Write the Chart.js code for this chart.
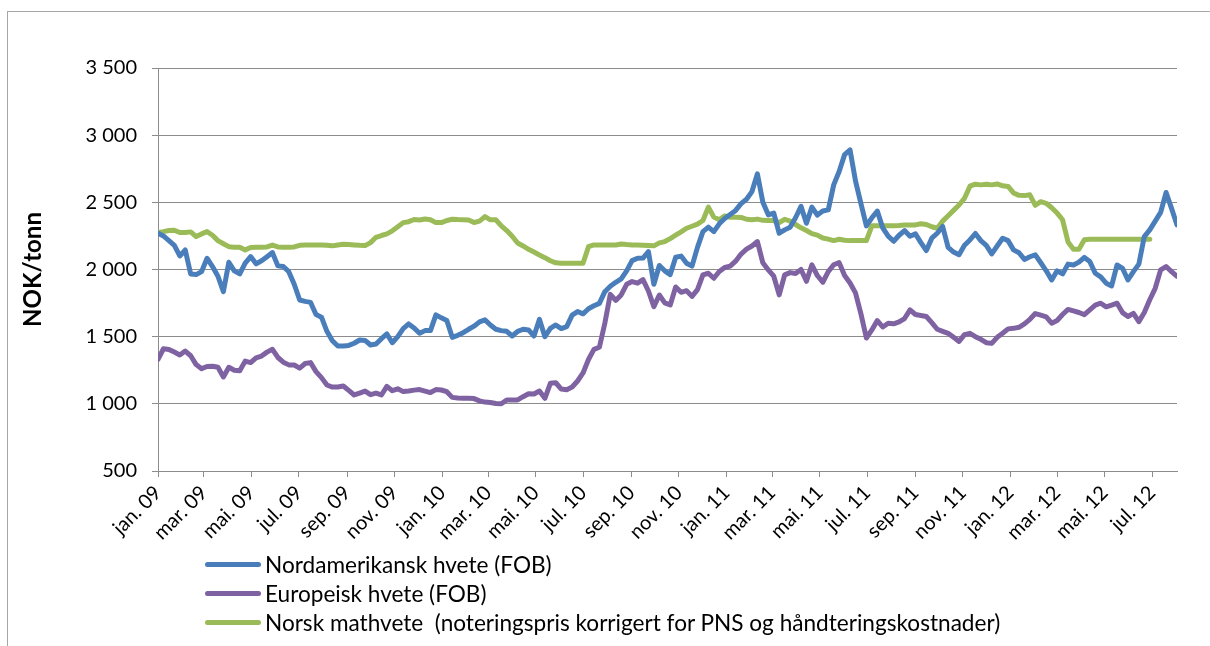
<!DOCTYPE html>
<html lang="no">
<head>
<meta charset="utf-8">
<title>Hvetepriser NOK/tonn</title>
<script src="https://cdn.jsdelivr.net/npm/chart.js@4.4.1/dist/chart.umd.min.js"></script>
<style>
    html, body { margin: 0; padding: 0; background: #fff; }
    #wrap { position: relative; width: 1210px; height: 646px; overflow: hidden; }
    #frame { position: absolute; left: 7px; top: 11px; width: 1300px; height: 700px;
             border-left: 1px solid #a6a6a6; border-top: 1px solid #a6a6a6; }
    #legend { position: absolute; left: 205px; top: 550px; font-family: Lato, sans-serif;
              font-size: 22.6px; color: #000; }
    #legend .row { display: flex; align-items: center; height: 29px; }
    #legend .line { width: 56px; height: 5px; border-radius: 3px; margin-right: 4px; }
</style>
</head>
<body>
<div id="wrap">
    <div id="frame"></div>
    <canvas id="chart" width="1210" height="646"></canvas>
    <div id="legend"></div>
</div>
<script>
// ========================================
// Data: weekly prices, NOK/tonn (week 0 = first week of jan. 2009)
// ========================================

const seriesNames = [
    'Nordamerikansk hvete (FOB)',
    'Europeisk hvete (FOB)',
    'Norsk mathvete  (noteringspris korrigert for PNS og håndteringskostnader)'
];

// x-axis labels, every second month from jan. 09
const tickLabels = [
    'jan. 09', 'mar. 09', 'mai. 09', 'jul. 09', 'sep. 09', 'nov. 09',
    'jan. 10', 'mar. 10', 'mai. 10', 'jul. 10', 'sep. 10', 'nov. 10',
    'jan. 11', 'mar. 11', 'mai. 11', 'jul. 11', 'sep. 11', 'nov. 11',
    'jan. 12', 'mar. 12', 'mai. 12', 'jul. 12'
];

const nordamerikansk = [
    2270, 2250, 2215, 2180, 2101, 2145, 1967, 1962, 1984, 2084,
    2022, 1950, 1835, 2054, 1990, 1967, 2047, 2096, 2042, 2065,
    2095, 2126, 2027, 2022, 1984, 1890, 1773, 1763, 1755, 1665,
    1645, 1540, 1470, 1431, 1431, 1435, 1451,
    1475, 1472, 1438, 1445, 1485, 1520, 1455, 1500, 1560, 1595,
    1565, 1525, 1545, 1545, 1662, 1640, 1620, 1495, 1510, 1530,
    1555, 1578, 1610, 1625, 1587, 1555, 1545, 1540, 1505, 1540,
    1555, 1550, 1505, 1629, 1500, 1562,
    1587, 1560, 1575, 1660, 1687, 1670, 1708, 1730, 1748, 1835,
    1875, 1905, 1930, 1990, 2066, 2084, 2085, 2133, 1890, 2030,
    1990, 1962, 2091, 2100, 2047, 2025, 2165, 2282, 2315, 2282,
    2340, 2380, 2410, 2440, 2490, 2523, 2580,
    2712, 2500, 2407, 2420, 2270, 2295, 2315, 2385, 2470, 2344,
    2465, 2405, 2435, 2444, 2630, 2730, 2855, 2890, 2660, 2490,
    2325, 2385, 2435, 2310, 2248, 2210, 2255, 2290, 2248, 2265,
    2200, 2141, 2233, 2270, 2320, 2165, 2130,
    2110, 2180, 2220, 2268, 2215, 2180, 2116, 2175, 2233, 2215,
    2146, 2125, 2075, 2095, 2109, 2050, 1990, 1922, 1990, 1967,
    2040, 2034, 2055, 2090, 2059, 1972, 1945, 1898, 1878, 2034,
    2009, 1922, 1984, 2040, 2245, 2295, 2360, 2425, 2573, 2455, 2332
];

const europeisk = [
    1331, 1410, 1405, 1385, 1364, 1393, 1358, 1292, 1262, 1278,
    1280, 1272, 1200, 1272, 1250, 1247, 1318, 1307, 1343, 1356,
    1385, 1406, 1345, 1310, 1290, 1289, 1266, 1300, 1307, 1240,
    1195, 1140, 1125, 1125, 1133, 1100, 1066,
    1080, 1095, 1068, 1080, 1066, 1130, 1098, 1112, 1091, 1095,
    1102, 1106, 1095, 1084, 1106, 1103, 1090, 1048, 1044, 1041,
    1041, 1039, 1022, 1013, 1010, 1003, 1000, 1029, 1029, 1029,
    1053, 1075, 1073, 1095, 1041, 1153,
    1157, 1110, 1105, 1125, 1170, 1230, 1330, 1405, 1421, 1600,
    1815, 1770, 1811, 1890, 1910, 1898, 1925, 1840, 1724, 1810,
    1752, 1736, 1870, 1830, 1842, 1800, 1850, 1960, 1972, 1935,
    1985, 2015, 2025, 2062, 2115, 2151, 2175,
    2208, 2050, 1997, 1950, 1811, 1960, 1977, 1970, 2000, 1912,
    2035, 1955, 1905, 1984, 2035, 2051, 1955, 1900, 1826, 1670,
    1490, 1550, 1620, 1572, 1600, 1596, 1610, 1635, 1699, 1665,
    1658, 1650, 1605, 1555, 1540, 1525, 1495,
    1465, 1515, 1525, 1500, 1480, 1455, 1450, 1495, 1525, 1558,
    1562, 1570, 1595, 1629, 1672, 1660, 1648, 1600, 1620, 1665,
    1703, 1692, 1680, 1664, 1700, 1735, 1749, 1722, 1735, 1749,
    1679, 1650, 1674, 1612, 1680, 1775, 1860, 1997, 2022, 1984, 1950
];

const norskMathvete = [
    2275, 2282, 2290, 2292, 2275, 2275, 2280, 2245, 2265, 2282,
    2255, 2215, 2192, 2170, 2166, 2166, 2146, 2164, 2166, 2166,
    2168, 2182, 2168, 2166, 2166, 2168, 2180, 2183, 2183, 2183,
    2183, 2180, 2176, 2183, 2188, 2186, 2183,
    2180, 2178, 2200, 2240, 2253, 2265, 2288, 2318, 2349, 2356,
    2372, 2369, 2376, 2370, 2349, 2349, 2365, 2374, 2372, 2371,
    2369, 2350, 2360, 2394, 2370, 2370, 2325, 2290, 2248, 2197,
    2175, 2150, 2130, 2108, 2088, 2065,
    2050, 2047, 2047, 2047, 2047, 2047, 2170, 2183, 2183, 2183,
    2183, 2183, 2190, 2186, 2183, 2182, 2180, 2178, 2176, 2198,
    2208, 2230, 2255, 2280, 2307, 2322, 2338, 2365, 2464, 2390,
    2370, 2399, 2389, 2389, 2388, 2374, 2370,
    2375, 2366, 2364, 2364, 2349, 2374, 2360, 2335, 2310, 2290,
    2267, 2256, 2234, 2226, 2215, 2225, 2218, 2215, 2215, 2215,
    2215, 2325, 2325, 2325, 2325, 2325, 2328, 2332, 2332, 2332,
    2340, 2335, 2318, 2307, 2360, 2400, 2440,
    2480, 2530, 2620, 2635, 2630, 2635, 2630, 2637, 2623, 2618,
    2570, 2552, 2550, 2556, 2478, 2505, 2493, 2460, 2420, 2370,
    2205, 2150, 2150, 2222, 2225, 2225, 2225, 2225, 2225, 2225,
    2225, 2225, 2225, 2225, 2225, 2225
];

const seriesColors = ['#4a7ebb', '#7f62a1', '#9bbb59'];

// uke-nummer for en dato (første i måneden)
const weekOfMonth = (i) => (Date.UTC(2009, i * 2, 1) - Date.UTC(2009, 0, 1)) / (7 * 24 * 3600 * 1000);

const toPoints = (values) => values.map((v, i) => ({ x: i, y: v }));

// "3 500"-format
const formatNok = (v) => v >= 1000 ? Math.floor(v / 1000) + ' ' + String(v % 1000).padStart(3, '0') : String(v);

Chart.defaults.font.family = 'Lato, "Open Sans", sans-serif';
Chart.defaults.color = '#000';

const gridColor = '#8c8c8c';

const chart = new Chart(document.getElementById('chart'), {
    type: 'line',
    data: {
        datasets: [nordamerikansk, europeisk, norskMathvete].map((values, i) => ({
            label: seriesNames[i],
            data: toPoints(values),
            borderColor: seriesColors[i],
            backgroundColor: seriesColors[i],
            borderWidth: 5,
            borderJoinStyle: 'round',
            borderCapStyle: 'round',
            pointRadius: 0,
            tension: 0,
            fill: false
        }))
    },
    options: {
        responsive: false,
        animation: false,
        layout: {
            padding: { left: 0, top: 68, right: 33, bottom: 0 }
        },
        plugins: {
            legend: { display: false },
            tooltip: { enabled: false }
        },
        scales: {
            x: {
                type: 'linear',
                min: 0,
                max: nordamerikansk.length - 1,
                afterFit: (scale) => { scale.height = 175; },
                afterBuildTicks: (scale) => {
                    scale.ticks = tickLabels.map((label, i) => ({ value: weekOfMonth(i) }));
                },
                ticks: {
                    autoSkip: false,
                    minRotation: 45,
                    maxRotation: 45,
                    padding: 4,
                    font: { size: 20 },
                    callback: (value, index) => tickLabels[index]
                },
                grid: {
                    drawOnChartArea: false,
                    drawTicks: true,
                    tickLength: 6,
                    color: gridColor
                },
                border: { color: gridColor, width: 1 }
            },
            y: {
                min: 500,
                max: 3500,
                afterFit: (scale) => { scale.width = 158; },
                ticks: {
                    stepSize: 500,
                    padding: 15,
                    font: { size: 20 },
                    callback: (value) => formatNok(value)
                },
                grid: {
                    color: gridColor,
                    tickLength: 6
                },
                border: { color: gridColor, width: 1 },
                title: {
                    display: true,
                    text: 'NOK/tonn',
                    font: { size: 24, weight: 'bold' },
                    padding: { top: 19, bottom: 0 }
                }
            }
        }
    }
});

// ========================================
// Legend (one entry per row, below the x-axis)
// ========================================
const legendEl = document.getElementById('legend');
chart.data.datasets.forEach((ds) => {
    const row = document.createElement('div');
    row.className = 'row';
    const line = document.createElement('span');
    line.className = 'line';
    line.style.background = ds.borderColor;
    const text = document.createElement('span');
    text.textContent = ds.label;
    text.style.whiteSpace = 'pre';
    row.appendChild(line);
    row.appendChild(text);
    legendEl.appendChild(row);
});
</script>
</body>
</html>
